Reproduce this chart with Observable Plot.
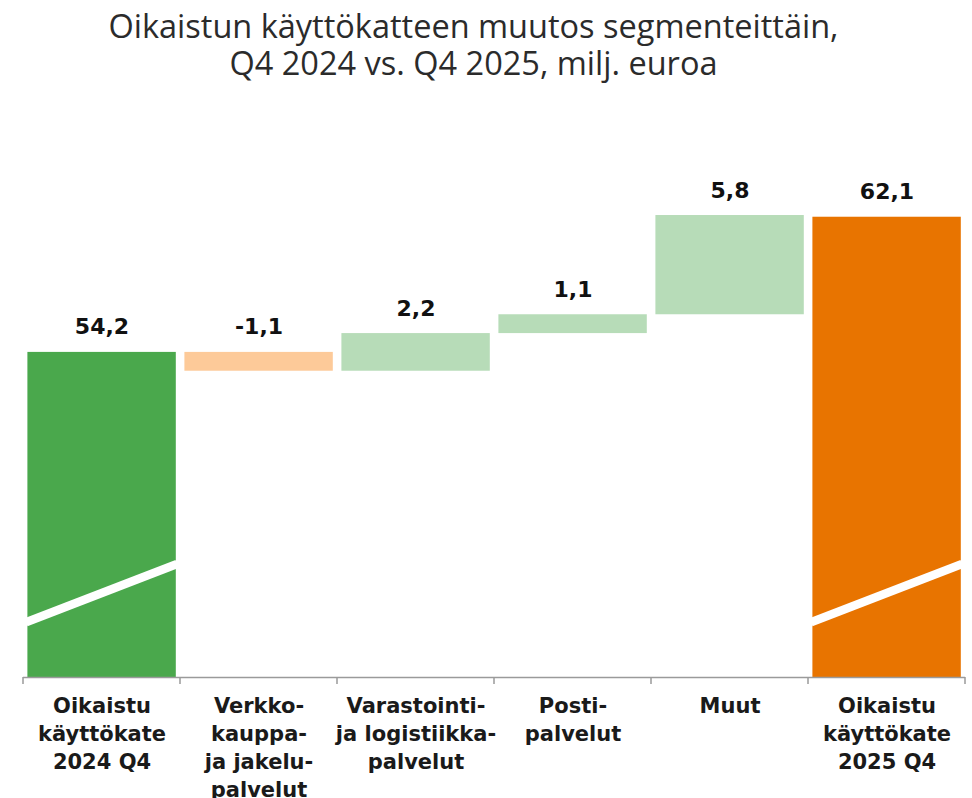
<!DOCTYPE html>
<html>
<head>
<meta charset="utf-8">
<script src="https://cdn.jsdelivr.net/npm/d3@7"></script>
<script src="https://cdn.jsdelivr.net/npm/@observablehq/plot@0.6"></script>
<style>
  html, body { margin: 0; padding: 0; background: #fff; }
  #title {
    width: 947px; height: 95px; box-sizing: border-box; padding-top: 7px;
    text-align: center; font-family: "Open Sans", sans-serif; font-size: 32.5px;
    color: #2b2b2b; font-weight: 400;
  }
  #title div { height: 37px; line-height: 37px; }
</style>
</head>
<body>
<div id="title"><div>Oikaistun käyttökatteen muutos segmenteittäin,</div><div>Q4 2024 vs. Q4 2025, milj. euroa</div></div>
<div id="chart"></div>
<script>
const categories = [
  "Oikaistu\nkäyttökate\n2024 Q4",
  "Verkko-\nkauppa-\nja jakelu-\npalvelut",
  "Varastointi-\nja logistiikka-\npalvelut",
  "Posti-\npalvelut",
  "Muut",
  "Oikaistu\nkäyttökate\n2025 Q4"
];
const values = [54.2, -1.1, 2.2, 1.1, 5.8, 62.1];
const kinds = ["start", "delta", "delta", "delta", "delta", "end"];
const valueLabels = ["54,2", "-1,1", "2,2", "1,1", "5,8", "62,1"];

const yFloor = 35.2;   // broken axis: visible floor of the value axis
const yTop = 66;
const breakFrom = 38.4, breakTo = 41.8; // axis-break slash on total bars

const colors = {start: "#4aa84c", end: "#e87400", pos: "#b7dcb8", neg: "#fdca99"};

let running = 0;
const rows = categories.map((c, i) => {
  const v = values[i], k = kinds[i];
  let y1, y2, col;
  if (k === "delta") {
    y1 = running; y2 = running + v; running = y2;
    col = v >= 0 ? colors.pos : colors.neg;
  } else {
    y1 = yFloor; y2 = v; running = v;
    col = colors[k];
  }
  return {cat: c, y1, y2, top: Math.max(y1, y2), label: valueLabels[i], color: col, kind: k};
});

function decorations(index, scales) {
  const x = scales.x, y = scales.y;
  const bw = typeof x.bandwidth === "function" ? x.bandwidth() : x.bandwidth;
  const g = d3.create("svg:g");
  const bounds = categories.map(c => x(c)).concat([x(categories[categories.length - 1]) + bw]);
  for (const b of bounds) {
    g.append("line").attr("x1", b).attr("x2", b).attr("y1", y(yFloor)).attr("y2", y(yFloor) + 7)
      .attr("stroke", "#9a9a9a").attr("stroke-width", 1.5);
  }
  for (const r of rows.filter(r => r.kind !== "delta")) {
    const x0 = x(r.cat) + 3, x1 = x(r.cat) + bw - 3;
    g.append("line").attr("x1", x0).attr("x2", x1).attr("y1", y(breakFrom)).attr("y2", y(breakTo))
      .attr("stroke", "#fff").attr("stroke-width", 8.5);
  }
  return g.node();
}

const chart = Plot.plot({
  width: 972,
  height: 703,
  marginLeft: 23,
  marginRight: 7,
  marginTop: 55,
  marginBottom: 121,
  x: {domain: categories, padding: 0, axis: null},
  y: {domain: [yFloor, yTop], axis: null},
  marks: [
    Plot.rectY(rows, {x: "cat", y1: "y1", y2: "y2", fill: "color", insetLeft: 4.4, insetRight: 4.2}),
    decorations,
    Plot.ruleY([yFloor], {stroke: "#9a9a9a", strokeWidth: 1.5}),
    Plot.text(rows, {x: "cat", y: "top", text: "label", dy: -25, fontSize: 22, fontWeight: "bold",
      fontFamily: "DejaVu Sans", fill: "#111"}),
    Plot.text(rows, {x: "cat", y: () => yFloor, text: "cat", dy: 16, lineAnchor: "top", lineHeight: 1.33,
      fontSize: 21, fontWeight: "bold", fontFamily: "DejaVu Sans", fill: "#1a1a1a"})
  ]
});
document.getElementById("chart").appendChild(chart);
</script>
</body>
</html>
